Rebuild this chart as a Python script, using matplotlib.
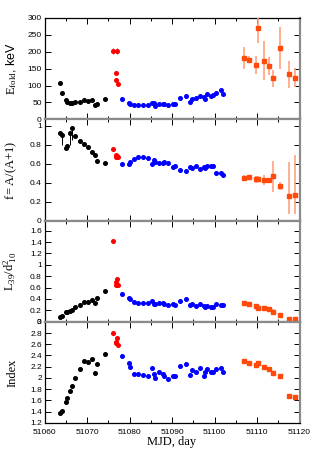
import numpy as np
import matplotlib
matplotlib.use('Agg')
from matplotlib import pyplot as plt
from matplotlib.ticker import MultipleLocator, FormatStrFormatter

plt.rcParams['font.family'] = ['Liberation Sans', 'DejaVu Sans']
plt.rcParams['mathtext.fontset'] = 'custom'
plt.rcParams['mathtext.rm'] = 'Liberation Serif'
plt.rcParams['mathtext.it'] = 'Liberation Serif:italic'

# observation dates, MJD
mjd_k = [51063.6, 51064.0, 51065.0, 51065.4, 51066.0, 51066.4, 51067.2, 51068.3,
         51069.2, 51070.2, 51071.2, 51071.9, 51072.4, 51074.2]
mjd_r = [51076.0, 51077.1, 51076.9, 51076.75, 51077.2]
mjd_b = [51078.2, 51079.8, 51080.1, 51081.1, 51082.1, 51083.1, 51084.4, 51085.2,
         51085.8, 51086.0, 51086.9, 51087.8, 51088.1, 51089.1, 51090.2, 51090.7,
         51091.9, 51093.2, 51094.2, 51094.6, 51095.6, 51096.6, 51097.6, 51097.8,
         51098.3, 51099.2, 51099.6, 51100.4, 51101.6, 51102.1]
mjd_o = [51107.0, 51108.2, 51109.8, 51110.3, 51111.7, 51112.9, 51113.8, 51115.3,
         51117.5, 51119.0]

# E_fold, keV
ef_k = [107, 78, 56, 51, 48, 48, 51, 51, 56, 54, 58, 41, 46, 61]
ef_r = [202, 202, 136, 117, 103]
ef_r_err = [9, 9, 0, 0, 0]
ef_b = [59, 47, 44, 42, 42, 42, 42, 48, 48, 40, 46, 46, 44, 42, 44, 46, 63, 69,
        52, 61, 63, 70, 65, 59, 75, 69, 71, 79, 87, 75]
ef_o = [181, 176, 160, 270, 174, 157, 121, 210, 133, 123]
ef_o_err = [33, 10, 27, 43, 58, 27, 25, 62, 39, 28]

# f = A/(A+1)
f_k = [0.927, 0.903, 0.771, 0.788, 0.92, 0.982, 0.896, 0.84, 0.805, 0.78, 0.719,
       0.695, 0.632, 0.607]
f_k_lo = [0.0, 0.10, 0.0, 0.0, 0.12, 0.13, 0.0, 0.0, 0.0, 0.0, 0.0, 0.0, 0.0, 0.0]
f_r = [0.757, 0.68, 0.69, 0.674, 0.674]
f_b = [0.594, 0.601, 0.615, 0.653, 0.667, 0.667, 0.656, 0.60, 0.635, 0.615, 0.607,
       0.607, 0.615, 0.607, 0.57, 0.58, 0.538, 0.521, 0.562, 0.552, 0.573, 0.549,
       0.562, 0.56, 0.573, 0.58, 0.573, 0.503, 0.497, 0.486]
f_o = [0.451, 0.458, 0.434, 0.441, 0.43, 0.43, 0.469, 0.361, 0.26, 0.267]
f_o_lo = [0.035, 0.02, 0.035, 0.03, 0.05, 0.02, 0.165, 0.043, 0.19, 0.20]
f_o_hi = [0.035, 0.02, 0.035, 0.03, 0.05, 0.02, 0.165, 0.043, 0.355, 0.42]

# L39/d10^2
l_k = [0.08, 0.108, 0.165, 0.165, 0.193, 0.205, 0.26, 0.295, 0.34, 0.347, 0.38,
       0.336, 0.41, 0.535]
l_r = [1.42, 0.75, 0.70, 0.65, 0.65]
l_b = [0.495, 0.42, 0.40, 0.347, 0.336, 0.33, 0.325, 0.364, 0.32, 0.31, 0.33, 0.33,
       0.313, 0.302, 0.319, 0.302, 0.37, 0.405, 0.29, 0.313, 0.285, 0.307, 0.27,
       0.268, 0.273, 0.262, 0.262, 0.307, 0.296, 0.296]
l_o = [0.336, 0.319, 0.279, 0.234, 0.24, 0.227, 0.176, 0.12, 0.056, 0.045]
l_o_err = [0.01, 0.01, 0.01, 0.01, 0.01, 0.01, 0.04, 0.01, 0.03, 0.01]

# photon index
ix_k = [1.371, 1.415, 1.575, 1.638, 1.777, 1.853, 2.006, 2.158, 2.30, 2.28, 2.33,
        2.095, 2.248, 2.425]
ix_r = [2.80, 2.72, 2.64, 2.62, 2.59]
ix_b = [2.39, 2.27, 2.20, 2.08, 2.08, 2.05, 2.04, 2.18, 2.07, 2.00, 2.10, 2.07,
        2.03, 1.98, 2.03, 2.03, 2.22, 2.25, 2.05, 2.15, 2.11, 2.17, 2.03, 2.11,
        2.16, 2.11, 2.11, 2.16, 2.17, 2.11]
ix_o = [2.305, 2.26, 2.235, 2.26, 2.196, 2.166, 2.095, 2.04, 1.682, 1.657]
ix_o_err = [0.02, 0.02, 0.02, 0.02, 0.02, 0.02, 0.03, 0.02, 0.02, 0.02]

ylabels = [r'$\rm E_{fold}$, keV', r'$\rm f{=}A/(A{+}1)$',
           r'$\rm L_{39}/d^2_{\ 10}$', 'Index']
ylims = [(0, 300), (0, 1.07), (0, 1.78), (1.2, 3.0)]
ysteps = [50, 0.2, 0.2, 0.2]

BLUE = '#0000ff'
RED = '#ff0000'
ORG = '#ff4a0a'
ORG_ERR = '#ffa27c'
GREY = '#8a8a8a'

fig, axs = plt.subplots(4, 1, figsize=(3.15, 4.5), dpi=100, sharex=True)
fig.subplots_adjust(left=0.1413, right=0.9508, bottom=0.06, top=0.96, hspace=0)

ms = 2.6
k_sets = [(ef_k, None), (f_k, [f_k_lo, [0] * len(f_k)]), (l_k, None), (ix_k, None)]
r_sets = [(ef_r, ef_r_err), (f_r, None), (l_r, None), (ix_r, None)]
b_sets = [ef_b, f_b, l_b, ix_b]
o_sets = [(ef_o, ef_o_err), (f_o, [f_o_lo, f_o_hi]), (l_o, l_o_err), (ix_o, ix_o_err)]

for i, ax in enumerate(axs):
    ky, kerr = k_sets[i]
    ax.errorbar(mjd_k, ky, yerr=kerr, fmt='o', color='k', ms=ms, lw=0.7,
                capsize=0, zorder=3)
    ry, rerr = r_sets[i]
    xerr = [0.4 if (rerr is not None and e > 0) else 0 for e in (rerr or [0] * 5)]
    ax.errorbar(mjd_r, ry, yerr=rerr, xerr=xerr if rerr is not None else None,
                fmt='o', color=RED, ms=ms, lw=0.7, capsize=0, zorder=3)
    ax.plot(mjd_b, b_sets[i], 'o', color=BLUE, ms=ms, zorder=3)
    oy, oerr = o_sets[i]
    ax.errorbar(mjd_o, oy, yerr=oerr, fmt='s', color=ORG, ecolor=ORG_ERR,
                ms=2.4, lw=1.2, capsize=0, zorder=3)

    ax.set_xlim(51060, 51120)
    ax.set_ylim(*ylims[i])
    ax.yaxis.set_major_locator(MultipleLocator(ysteps[i]))
    ax.yaxis.set_major_formatter(FormatStrFormatter('%g'))
    ax.xaxis.set_major_locator(MultipleLocator(10))
    ax.xaxis.set_minor_locator(MultipleLocator(5))
    ax.tick_params(which='both', direction='in', top=True, right=True,
                   labelsize=6, pad=2, width=0.7)
    ax.tick_params(axis='x', pad=4)
    ax.tick_params(which='major', length=4)
    ax.tick_params(which='minor', length=2)
    ax.set_ylabel(ylabels[i], fontsize=9)
    ax.yaxis.set_label_coords(-0.10, 0.5)

    for s in ['left', 'right', 'top', 'bottom']:
        ax.spines[s].set_linewidth(0.9)
    ax.spines['right'].set_color(GREY)
    ax.spines['right'].set_linewidth(1.6)
    if i > 0:
        ax.spines['top'].set_color(GREY)
        ax.spines['top'].set_linewidth(1.6)
    if i < 3:
        ax.spines['bottom'].set_color(GREY)
        ax.spines['bottom'].set_linewidth(1.6)

axs[3].set_xlabel('MJD, day', fontsize=9, family='Liberation Serif', labelpad=0)
axs[3].yaxis.label.set_family('Liberation Serif')

plt.savefig('out.png', dpi=100)
